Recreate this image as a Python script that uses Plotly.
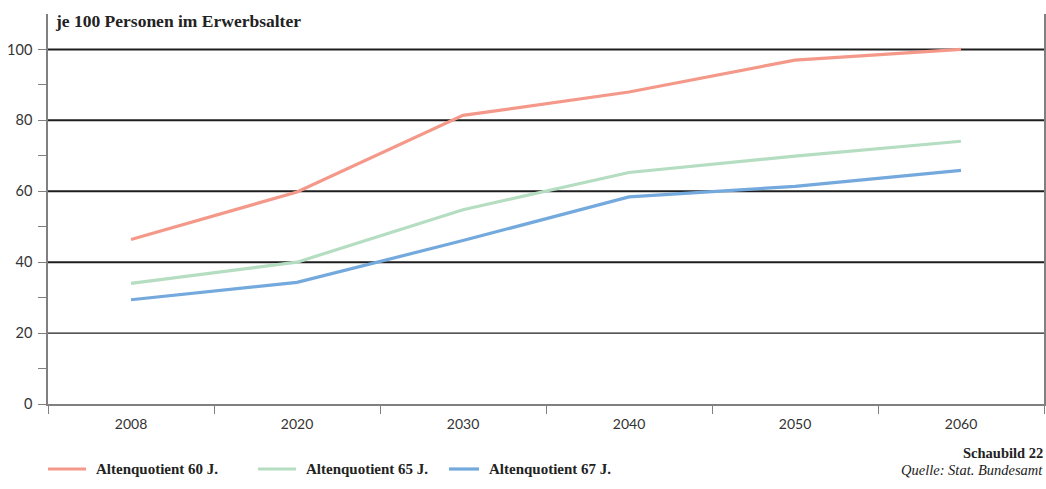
import plotly.graph_objects as go

# Altenquotient: persons of pension age per 100 persons of working age
years = ["2008", "2020", "2030", "2040", "2050", "2060"]
quote_60 = [46.4, 59.8, 81.4, 88.0, 97.0, 100.0]
quote_65 = [34.0, 40.0, 54.8, 65.3, 69.9, 74.1]
quote_67 = [29.4, 34.3, 46.1, 58.4, 61.4, 65.9]

series_names = ["Altenquotient 60 J.", "Altenquotient 65 J.", "Altenquotient 67 J."]
series_colors = ["#F4998A", "#B5DDC1", "#74A9DD"]

grid_values = [20, 40, 60, 80, 100]
grid_widths = [1.2, 2, 2, 2, 2]

SERIF = "Liberation Serif"
SANS = "Lato"

W, H = 1046, 489
M_L, M_R, M_T, M_B = 48, 2, 14, 85
PW, PH = W - M_L - M_R, H - M_T - M_B

fig = go.Figure()
for name, vals, col in zip(series_names, [quote_60, quote_65, quote_67], series_colors):
    fig.add_trace(go.Scatter(
        x=years, y=vals, name=name, mode="lines",
        line=dict(color=col, width=3.2),
    ))

# horizontal reference lines (20 is drawn lighter than the others)
for gv, gw in zip(grid_values, grid_widths):
    fig.add_shape(type="line", xref="paper", yref="y", x0=0, x1=1, y0=gv, y1=gv,
                  line=dict(color="#1e1e1e", width=gw), layer="below")


def px_x(p):
    return (p - M_L) / PW


def px_y(p):
    return (H - M_B - p) / PH


# key below the chart: line swatch followed by bold label
key_starts = [48, 258, 449]
key_lengths = [38, 38, 30]
key_y = 469
annotations = []
for start, length, name, col in zip(key_starts, key_lengths, series_names, series_colors):
    fig.add_shape(type="line", xref="paper", yref="paper",
                  x0=px_x(start), x1=px_x(start + length), y0=px_y(key_y), y1=px_y(key_y),
                  line=dict(color=col, width=3.2))
    annotations.append(dict(
        text=name, xref="paper", yref="paper", x=px_x(start + length + 8), y=px_y(key_y),
        xanchor="left", yanchor="middle", showarrow=False,
        font=dict(family=SERIF, size=15, color="#222222", weight="bold")))

annotations += [
    dict(text="je 100 Personen im Erwerbsalter", xref="paper", yref="paper",
         x=px_x(53), y=px_y(21), xanchor="left", yanchor="middle", showarrow=False,
         font=dict(family=SERIF, size=17.5, color="#222222", weight="bold")),
    dict(text="Schaubild 22", xref="paper", yref="paper",
         x=px_x(1045), y=px_y(453), xanchor="right", yanchor="middle", showarrow=False,
         font=dict(family=SERIF, size=14.5, color="#222222", weight="bold")),
    dict(text="<i>Quelle: Stat. Bundesamt</i>", xref="paper", yref="paper",
         x=px_x(1045), y=px_y(470), xanchor="right", yanchor="middle", showarrow=False,
         font=dict(family=SERIF, size=14.5, color="#222222")),
]

fig.update_layout(
    width=W, height=H,
    margin=dict(l=M_L, r=M_R, t=M_T, b=M_B, autoexpand=False),
    paper_bgcolor="white", plot_bgcolor="white",
    showlegend=False,
    xaxis=dict(
        type="category", range=[-0.5, 5.5], automargin=False,
        showgrid=False, zeroline=False,
        showline=True, linecolor="#808080", linewidth=1.5,
        ticks="outside", tickson="boundaries", ticklen=8, tickcolor="#808080", tickwidth=1.2,
        ticklabelstandoff=6,
        tickfont=dict(family=SANS, size=14, color="#333333"),
        fixedrange=True,
    ),
    yaxis=dict(
        range=[0, 110], tickvals=[0, 20, 40, 60, 80, 100], automargin=False,
        showgrid=False, zeroline=False,
        showline=True, mirror=True, linecolor="#808080", linewidth=1.5,
        ticks="outside", ticklen=8, tickcolor="#808080", tickwidth=1.2,
        ticklabelstandoff=3,
        tickfont=dict(family=SANS, size=14.5, color="#333333"),
        minor=dict(tickvals=[10, 30, 50, 70, 90], ticks="outside", ticklen=8,
                   tickcolor="#808080", tickwidth=1.2, showgrid=False),
        fixedrange=True,
    ),
    annotations=annotations,
)

fig.write_html("out.html")
